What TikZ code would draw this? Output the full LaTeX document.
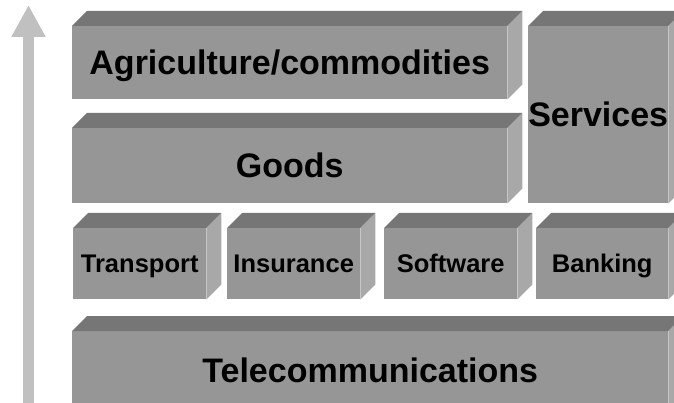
\documentclass[tikz,border=0pt]{standalone}
\usepackage{fontspec}
\setmainfont{Liberation Sans}
\usetikzlibrary{arrows.meta,calc}

\definecolor{frontgray}{HTML}{969696}
\definecolor{topgray}{HTML}{767676}
\definecolor{sidegray}{HTML}{A8A8A8}
\definecolor{arrowgray}{HTML}{C0C0C0}

\tikzset{
  front/.style={fill=frontgray, draw=none, inner sep=0pt, anchor=north west,
                text height=24.4pt, text depth=0pt,
                font=\bfseries\fontsize{34}{40}\selectfont},
  smallfront/.style={front, text height=18.3pt,
                font=\bfseries\fontsize{25.5}{30}\selectfont},
  topface/.style={fill=topgray, draw=none},
  sideface/.style={fill=sidegray, draw=none},
  growth/.style={draw=arrowgray, line width=11pt,
                 -{Triangle[width=32pt,length=32pt]}, fill=arrowgray},
}

% depth of the slanted top and side faces
\newcommand{\boxdepth}{15}

% draws the top and side faces behind a named front face
\newcommand{\blockfaces}[1]{%
  \fill[topface] (#1.north west) -- ++(\boxdepth,-\boxdepth)
                 -- ($(#1.north east)+(\boxdepth,-\boxdepth)$) -- (#1.north east) -- cycle;
  \fill[sideface] (#1.north east) -- ++(\boxdepth,-\boxdepth)
                 -- ($(#1.south east)+(\boxdepth,-\boxdepth)$) -- (#1.south east) -- cycle;
}

\begin{document}
\begin{tikzpicture}[x=1pt, y=-1pt]
  \useasboundingbox (0,0) rectangle (674,403);
  \clip (0,0) rectangle (674,403);

  % upward arrow on the left
  \coordinate (arrowbase) at (28.5,410);
  \coordinate (arrowtip) at (28.5,5);
  \draw[growth] (arrowbase) -- (arrowtip);

  % front faces
  \node[front, minimum width=435pt, minimum height=73pt] (agri) at (72,26) {Agriculture/commodities};
  \node[front, minimum width=435pt, minimum height=75pt] (goods) at (72,128) {Goods};
  \node[front, minimum width=140pt, minimum height=177pt] (services) at (528,26) {Services};
  \node[smallfront, minimum width=133pt, minimum height=71pt] (transport) at (73,228) {Transport};
  \node[smallfront, minimum width=133pt, minimum height=71pt] (insurance) at (227,228) {Insurance};
  \node[smallfront, minimum width=133pt, minimum height=71pt] (software) at (384,228) {Software};
  \node[smallfront, minimum width=132pt, minimum height=71pt] (banking) at (536,228) {Banking};
  \node[front, minimum width=596pt, minimum height=78pt] (telecom) at (72,331) {Telecommunications};

  % slanted faces
  \blockfaces{agri}
  \blockfaces{goods}
  \blockfaces{services}
  \blockfaces{transport}
  \blockfaces{insurance}
  \blockfaces{software}
  \blockfaces{banking}
  \blockfaces{telecom}
\end{tikzpicture}
\end{document}
